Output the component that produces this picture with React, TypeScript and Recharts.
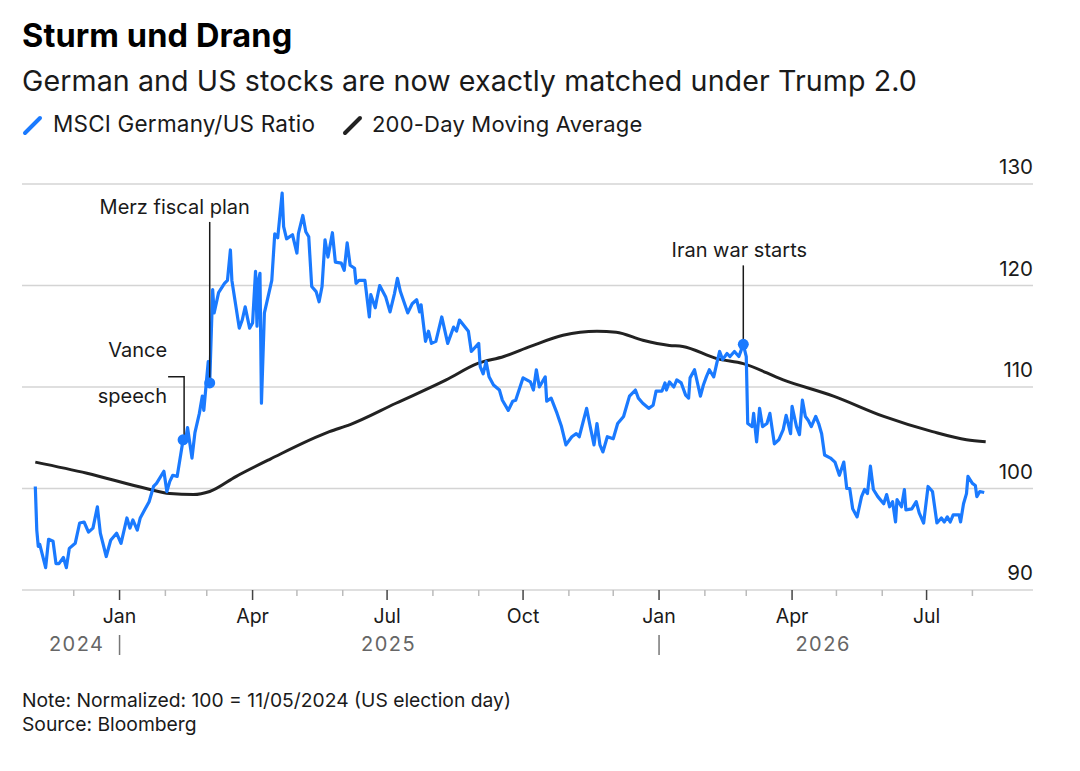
import { CartesianGrid, Line, LineChart, ReferenceDot, XAxis, YAxis } from 'recharts';

const FONT = 'Inter, "Liberation Sans", sans-serif';
const BLUE = '#1a7aff';
const INK = '#1a1a1a';

// MSCI Germany / MSCI US, normalized to 100 on election day
const ratioDates = [
  '2024-11-05', '2024-11-06', '2024-11-07', '2024-11-08', '2024-11-12', '2024-11-14', '2024-11-17', '2024-11-19',
  '2024-11-21', '2024-11-24', '2024-11-26', '2024-11-28', '2024-12-02', '2024-12-05', '2024-12-08', '2024-12-11',
  '2024-12-14', '2024-12-17', '2024-12-19', '2024-12-23', '2024-12-26', '2024-12-30', '2025-01-02', '2025-01-06',
  '2025-01-08', '2025-01-10', '2025-01-13', '2025-01-15', '2025-01-18', '2025-01-21', '2025-01-24', '2025-01-26',
  '2025-01-31', '2025-02-02', '2025-02-04', '2025-02-06', '2025-02-09', '2025-02-13', '2025-02-15', '2025-02-16',
  '2025-02-19', '2025-02-21', '2025-02-24', '2025-02-26', '2025-02-27', '2025-03-02', '2025-03-03', '2025-03-05',
  '2025-03-06', '2025-03-09', '2025-03-13', '2025-03-15', '2025-03-17', '2025-03-18', '2025-03-23', '2025-03-25',
  '2025-03-27', '2025-03-30', '2025-04-01', '2025-04-03', '2025-04-04', '2025-04-05', '2025-04-06', '2025-04-07',
  '2025-04-09', '2025-04-14', '2025-04-16', '2025-04-18', '2025-04-21', '2025-04-22', '2025-04-24', '2025-04-28',
  '2025-05-01', '2025-05-02', '2025-05-05', '2025-05-07', '2025-05-09', '2025-05-11', '2025-05-14', '2025-05-16',
  '2025-05-18', '2025-05-20', '2025-05-22', '2025-05-25', '2025-05-27', '2025-05-31', '2025-06-02', '2025-06-04',
  '2025-06-06', '2025-06-09', '2025-06-10', '2025-06-12', '2025-06-16', '2025-06-19', '2025-06-20', '2025-06-23',
  '2025-06-24', '2025-06-26', '2025-06-30', '2025-07-03', '2025-07-06', '2025-07-08', '2025-07-10', '2025-07-15',
  '2025-07-18', '2025-07-21', '2025-07-23', '2025-07-24', '2025-07-27', '2025-07-29', '2025-07-31', '2025-08-03',
  '2025-08-07', '2025-08-09', '2025-08-11', '2025-08-15', '2025-08-17', '2025-08-19', '2025-08-25', '2025-08-27',
  '2025-09-01', '2025-09-02', '2025-09-04', '2025-09-06', '2025-09-08', '2025-09-11', '2025-09-15', '2025-09-17',
  '2025-09-21', '2025-09-24', '2025-09-26', '2025-10-01', '2025-10-06', '2025-10-08', '2025-10-10', '2025-10-12',
  '2025-10-16', '2025-10-17', '2025-10-20', '2025-10-24', '2025-10-27', '2025-10-30', '2025-11-03', '2025-11-06',
  '2025-11-08', '2025-11-13', '2025-11-15', '2025-11-18', '2025-11-20', '2025-11-22', '2025-11-24', '2025-11-27',
  '2025-12-01', '2025-12-04', '2025-12-08', '2025-12-10', '2025-12-12', '2025-12-16', '2025-12-18', '2025-12-21',
  '2025-12-25', '2025-12-28', '2025-12-30', '2026-01-03', '2026-01-05', '2026-01-06', '2026-01-08', '2026-01-11',
  '2026-01-13', '2026-01-16', '2026-01-19', '2026-01-21', '2026-01-22', '2026-01-25', '2026-01-29', '2026-01-31',
  '2026-02-02', '2026-02-04', '2026-02-07', '2026-02-09', '2026-02-11', '2026-02-13', '2026-02-16', '2026-02-18',
  '2026-02-21', '2026-02-24', '2026-02-27', '2026-03-01', '2026-03-02', '2026-03-05', '2026-03-06', '2026-03-08',
  '2026-03-10', '2026-03-12', '2026-03-15', '2026-03-17', '2026-03-20', '2026-03-23', '2026-03-26', '2026-03-28',
  '2026-03-31', '2026-04-01', '2026-04-04', '2026-04-06', '2026-04-08', '2026-04-10', '2026-04-12', '2026-04-14',
  '2026-04-17', '2026-04-19', '2026-04-21', '2026-04-23', '2026-04-27', '2026-04-30', '2026-05-03', '2026-05-06',
  '2026-05-08', '2026-05-10', '2026-05-12', '2026-05-15', '2026-05-18', '2026-05-20', '2026-05-22', '2026-05-24',
  '2026-05-26', '2026-05-29', '2026-06-02', '2026-06-04', '2026-06-06', '2026-06-08', '2026-06-10', '2026-06-11',
  '2026-06-14', '2026-06-16', '2026-06-17', '2026-06-21', '2026-06-24', '2026-06-26', '2026-06-29', '2026-07-02',
  '2026-07-05', '2026-07-08', '2026-07-11', '2026-07-13', '2026-07-15', '2026-07-17', '2026-07-19', '2026-07-23',
  '2026-07-24', '2026-07-26', '2026-07-28', '2026-07-29', '2026-08-01', '2026-08-03', '2026-08-04', '2026-08-06',
  '2026-08-09',
];

const ratioValues = [
  100.2, 95.9, 94.3, 94.5, 92.2, 95.0, 94.8, 92.6,
  92.6, 93.2, 92.2, 94.1, 94.6, 96.6, 96.7, 95.7,
  96.1, 98.2, 95.6, 93.3, 94.9, 95.6, 94.6, 97.1,
  96.1, 96.9, 95.9, 97.1, 97.9, 98.7, 100.2, 100.5,
  101.7, 99.7, 100.7, 101.3, 101.2, 104.8, 105.1, 106.0,
  103.0, 105.5, 107.4, 109.1, 107.7, 112.5, 110.4, 119.6,
  117.3, 119.3, 120.2, 120.5, 123.5, 120.5, 115.8, 116.6,
  117.9, 115.8, 116.3, 121.4, 116.0, 120.5, 121.2, 108.4,
  117.3, 120.5, 125.1, 124.7, 129.1, 125.8, 124.6, 125.0,
  123.2, 125.1, 126.9, 125.3, 124.8, 119.9, 119.4, 118.4,
  119.9, 124.5, 122.8, 125.2, 122.3, 122.2, 121.5, 124.2,
  122.0, 121.7, 120.2, 120.5, 120.5, 116.9, 119.1, 117.8,
  118.6, 120.0, 118.9, 117.4, 119.2, 120.7, 119.4, 117.3,
  118.2, 118.6, 117.4, 118.1, 114.5, 115.5, 114.3, 114.5,
  116.9, 115.6, 114.3, 115.9, 115.5, 116.6, 115.5, 113.5,
  114.3, 112.0, 111.3, 112.5, 111.0, 110.2, 109.7, 108.7,
  107.7, 108.6, 108.7, 110.9, 110.5, 109.7, 111.7, 110.0,
  111.0, 108.6, 108.9, 107.4, 106.1, 104.3, 105.1, 105.4,
  105.1, 107.9, 106.4, 104.3, 106.4, 104.3, 103.6, 105.1,
  104.9, 106.4, 107.1, 108.1, 109.1, 109.7, 108.9, 108.4,
  107.9, 108.2, 109.6, 109.6, 110.4, 109.7, 110.5, 110.0,
  110.7, 110.4, 109.2, 108.9, 110.9, 111.7, 109.1, 110.2,
  111.0, 111.7, 111.0, 112.3, 113.5, 112.7, 113.3, 113.0,
  113.5, 113.0, 114.2, 113.0, 106.4, 106.1, 107.4, 104.6,
  107.9, 106.1, 106.4, 107.4, 104.4, 104.8, 105.8, 107.2,
  105.4, 108.1, 106.1, 105.3, 108.7, 107.1, 106.7, 106.1,
  107.1, 106.4, 105.4, 103.3, 103.0, 102.6, 101.3, 102.6,
  100.0, 100.0, 98.0, 97.2, 99.2, 99.9, 99.5, 102.2,
  99.9, 99.2, 98.5, 99.4, 98.2, 98.7, 96.7, 98.9,
  98.2, 99.9, 97.9, 98.0, 98.7, 97.6, 96.6, 100.2,
  99.7, 96.6, 97.1, 96.7, 97.2, 96.7, 97.4, 97.4,
  96.7, 98.5, 99.5, 101.2, 100.5, 100.3, 99.2, 99.7,
  99.6,
];

// 200-day moving average of the ratio
const maDates = [
  '2024-11-05', '2024-12-10', '2025-01-19', '2025-02-04', '2025-02-20', '2025-03-03', '2025-03-21', '2025-04-13',
  '2025-05-23', '2025-06-06', '2025-07-07', '2025-08-10', '2025-08-31', '2025-09-18', '2025-10-06', '2025-10-28',
  '2025-11-20', '2025-12-03', '2025-12-21', '2026-01-08', '2026-01-17', '2026-02-09', '2026-02-27', '2026-03-26',
  '2026-04-29', '2026-06-02', '2026-07-05', '2026-07-28', '2026-08-10',
];
const maValues = [
  102.6, 101.5, 100.0, 99.5, 99.4, 99.7, 101.2, 102.9,
  105.6, 106.3, 108.4, 110.7, 112.3, 113.0, 114.0, 115.1,
  115.5, 115.4, 114.6, 114.1, 114.0, 112.8, 112.3, 110.7,
  109.1, 107.1, 105.6, 104.8, 104.6,
];

const yTicks = [90, 100, 110, 120, 130];
const monthTickDates = [
  '2024-12-01', '2025-01-01', '2025-02-01', '2025-03-01', '2025-04-01', '2025-05-01', '2025-06-01',
  '2025-07-01', '2025-08-01', '2025-09-01', '2025-10-01', '2025-11-01', '2025-12-01', '2026-01-01',
  '2026-02-01', '2026-03-01', '2026-04-01', '2026-05-01', '2026-06-01', '2026-07-01', '2026-08-01',
];
const quarterLabels: Record<number, string> = { 0: 'Jan', 3: 'Apr', 6: 'Jul', 9: 'Oct' };

const seriesNames = ['MSCI Germany/US Ratio', '200-Day Moving Average'];

const eventDates = ['2025-02-13', '2025-03-03', '2026-02-27'];
const eventValues = [104.8, 110.4, 114.2];
const eventLabels = [['Vance', 'speech'], ['Merz fiscal plan'], ['Iran war starts']];

const toDay = (s: string) =>
  Date.UTC(+s.slice(0, 4), +s.slice(5, 7) - 1, +s.slice(8, 10)) / 86400000;

const ratioData = ratioDates.map((d, i) => ({ t: toDay(d), v: ratioValues[i] }));
const maData = maDates.map((d, i) => ({ t: toDay(d), v: maValues[i] }));

// year captions sit in the middle of each year's stretch of data
const years = Array.from(new Set(ratioDates.map((d) => d.slice(0, 4))));
const yearMids = years.map((y) => {
  const ds = ratioData.filter((p, i) => ratioDates[i].startsWith(y)).map((p) => p.t);
  return Math.round((ds[0] + ds[ds.length - 1]) / 2);
});

const monthTicks = monthTickDates.map(toDay);
const xDomain = [toDay('2024-10-27'), toDay('2026-09-11')];

function XTick(props: any) {
  const { x, y, payload } = props;
  const v = payload.value as number;
  const yi = yearMids.indexOf(v);
  if (yi >= 0) {
    return (
      <text x={x} y={y + 61} textAnchor="middle" fill="#666" fontSize={20} letterSpacing={1.5} fontFamily={FONT}>
        {years[yi]}
      </text>
    );
  }
  const month = new Date(v * 86400000).getUTCMonth();
  const label = quarterLabels[month];
  return (
    <g>
      <line x1={x} x2={x} y1={y} y2={y + (label ? 10 : 6)} stroke={label ? '#444' : '#bbb'} strokeWidth={1.5} />
      {label && (
        <text x={x} y={y + 33} textAnchor="middle" fill={INK} fontSize={19.5} fontFamily={FONT}>
          {label}
        </text>
      )}
      {month === 0 && <line x1={x} x2={x} y1={y + 45} y2={y + 65} stroke="#777" strokeWidth={1.5} />}
    </g>
  );
}

function YTick(props: any) {
  const { x, y, payload } = props;
  return (
    <text x={x} y={y - 10} textAnchor="end" fill={INK} fontSize={20.5} fontFamily={FONT}>
      {payload.value}
    </text>
  );
}

// dot + leader line + caption, drawn from the dot's own position
function EventMarker(i: number) {
  return (props: any) => {
    const { cx, cy } = props;
    const lines = eventLabels[i];
    const text = { fill: INK, fontSize: 20, fontFamily: FONT };
    if (i === 0) {
      return (
        <g>
          <polyline
            points={`${cx - 15},${cy - 63} ${cx + 1},${cy - 63} ${cx + 1},${cy}`}
            fill="none"
            stroke={INK}
            strokeWidth={1.5}
          />
          <text x={cx - 16} y={cy - 83} textAnchor="end" {...text}>{lines[0]}</text>
          <text x={cx - 16} y={cy - 37} textAnchor="end" {...text}>{lines[1]}</text>
          <circle cx={cx} cy={cy} r={5.5} fill={BLUE} />
        </g>
      );
    }
    const len = i === 1 ? 161 : 79;
    const dx = i === 1 ? -35 : -4;
    return (
      <g>
        <line x1={cx} x2={cx} y1={cy - len} y2={cy} stroke={INK} strokeWidth={1.5} />
        <text x={cx + dx} y={cy - len - 8} textAnchor="middle" {...text}>{lines[0]}</text>
        <circle cx={cx} cy={cy} r={5.5} fill={BLUE} />
      </g>
    );
  };
}

export default function App() {
  return (
    <div style={{ position: 'absolute', left: 0, top: 0, width: 1080, height: 771, background: '#fff' }}>
      <svg width={1080} height={771} style={{ position: 'absolute', left: 0, top: 0 }}>
        <text x={22} y={47} fontSize={32.5} fontWeight={700} fill="#000" fontFamily={FONT} letterSpacing={0.1}>
          Sturm und Drang
        </text>
        <text x={22} y={91} fontSize={28.6} fill={INK} fontFamily={FONT} letterSpacing={0.1}>
          German and US stocks are now exactly matched under Trump 2.0
        </text>
        <line x1={25} y1={133} x2={40} y2={118} stroke={BLUE} strokeWidth={4} strokeLinecap="round" />
        <text x={53} y={132} fontSize={22.5} fill={INK} fontFamily={FONT} letterSpacing={0.2}>{seriesNames[0]}</text>
        <line x1={345} y1={133} x2={360} y2={118} stroke="#222" strokeWidth={4} strokeLinecap="round" />
        <text x={372} y={132} fontSize={22} fill={INK} fontFamily={FONT} letterSpacing={0.2}>{seriesNames[1]}</text>
        <text x={22} y={707} fontSize={19.3} fill={INK} fontFamily={FONT}>
          Note: Normalized: 100 = 11/05/2024 (US election day)
        </text>
        <text x={22} y={731} fontSize={19.3} fill={INK} fontFamily={FONT}>
          Source: Bloomberg
        </text>
      </svg>
      <div style={{ position: 'absolute', left: 0, top: 0 }}>
        <LineChart width={1080} height={771} margin={{ top: 184, right: 0, bottom: 121, left: 22 }}>
          <CartesianGrid vertical={false} stroke="#d4d4d4" strokeWidth={1.5} />
          <XAxis
            dataKey="t"
            type="number"
            domain={xDomain}
            ticks={[...monthTicks, ...yearMids]}
            interval={0}
            height={60}
            tickSize={0}
            tickMargin={0}
            axisLine={false}
            tickLine={false}
            tick={<XTick />}
            allowDataOverflow
          />
          <YAxis
            orientation="right"
            type="number"
            domain={[90, 130]}
            ticks={yTicks}
            interval={0}
            width={47}
            tickSize={0}
            tickMargin={0}
            axisLine={false}
            tickLine={false}
            tick={<YTick />}
            allowDataOverflow
          />
          <Line
            data={maData}
            dataKey="v"
            type="monotone"
            stroke="#222"
            strokeWidth={3}
            dot={false}
            isAnimationActive={false}
          />
          <Line
            data={ratioData}
            dataKey="v"
            type="linear"
            stroke={BLUE}
            strokeWidth={3.2}
            strokeLinejoin="round"
            dot={false}
            isAnimationActive={false}
          />
          {eventDates.map((d, i) => (
            <ReferenceDot key={d} x={toDay(d)} y={eventValues[i]} r={5.5} shape={EventMarker(i)} ifOverflow="visible" />
          ))}
        </LineChart>
      </div>
    </div>
  );
}
